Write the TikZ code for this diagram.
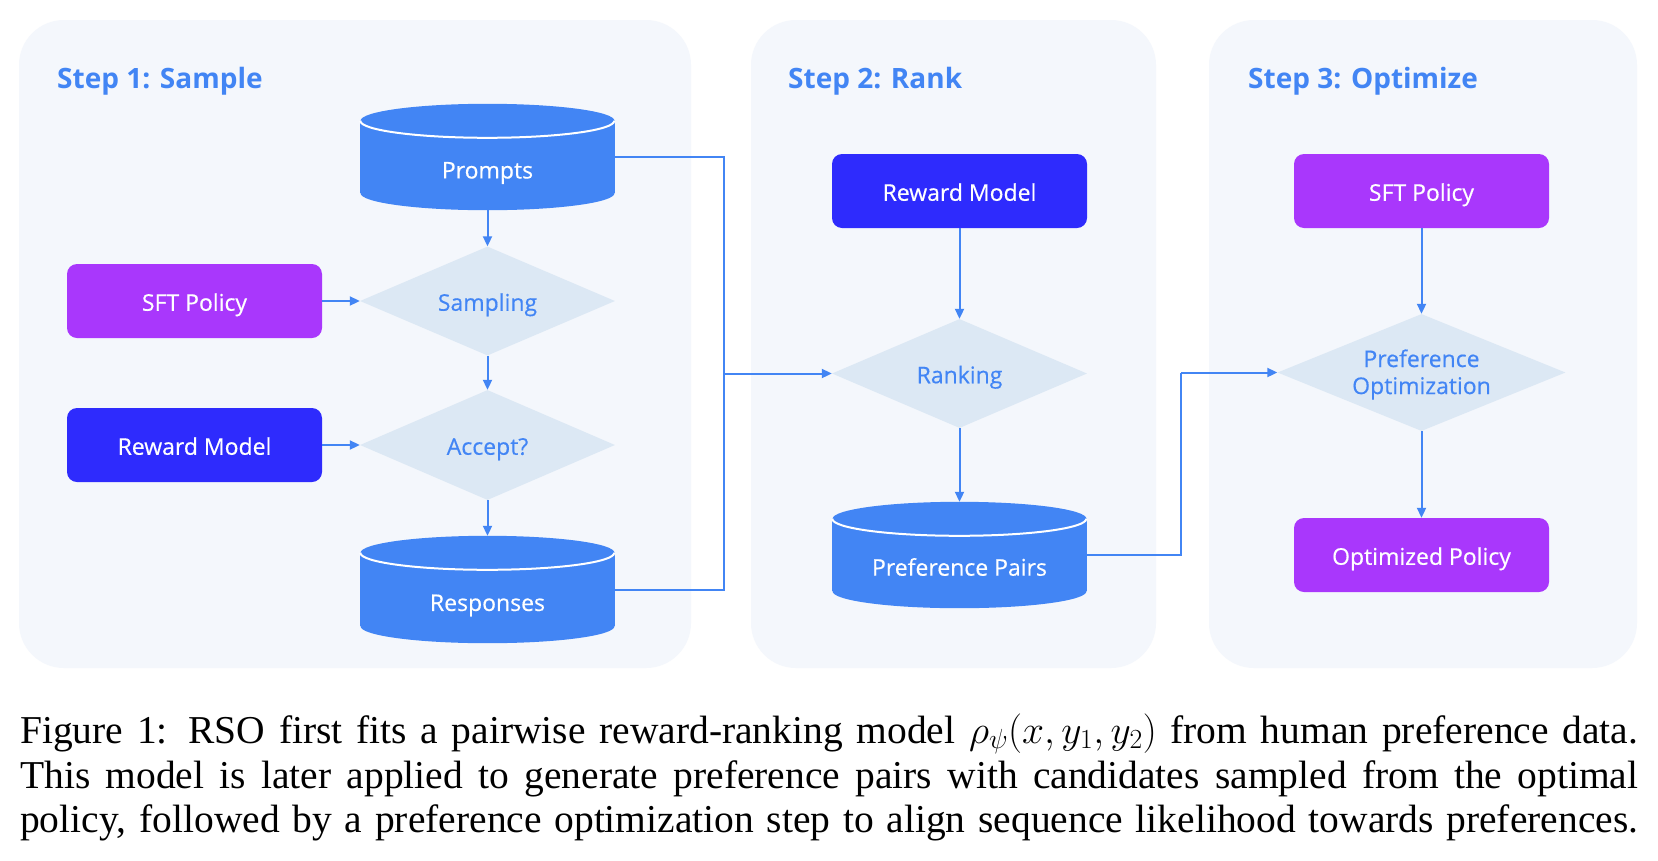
\RequirePackage{fix-cm}
\documentclass[tikz,border=0pt]{standalone}
\usepackage{fontspec}
\setmainfont{Liberation Serif}
\newfontfamily\gsans{Open Sans}
\newfontfamily\gsansm{Open Sans}[FakeBold=0.4]
\usetikzlibrary{shapes.geometric,arrows.meta,calc}
\definecolor{panelbg}{HTML}{F4F7FC}
\definecolor{cylblue}{HTML}{4285F4}
\definecolor{rmblue}{HTML}{2E2BFD}
\definecolor{sftpurple}{HTML}{A937FC}
\definecolor{diafill}{HTML}{DCE8F4}
\definecolor{linkblue}{HTML}{4285F4}
\newcommand\drawcyl[1]{%
  \fill[cylblue] ($(#1.north west)+(0,17)$) rectangle ($(#1.south east)+(0,-17)$);
  \fill[cylblue] ($(#1.north)+(0,17)$) ellipse [x radius=127, y radius=17];
  \fill[cylblue] ($(#1.south)+(0,-17)$) ellipse [x radius=127, y radius=17];
  \draw[white, line width=2pt] ($(#1.north west)+(0,17)$) arc[start angle=180, end angle=0, x radius=127, y radius=17];
}
\begin{document}
\begin{tikzpicture}[x=1pt,y=-1pt,
  panel/.style={fill=panelbg, rounded corners=45pt},
  boxfont/.style={font=\gsansm\fontsize{23}{28}\selectfont},
  lift/.style={text height=24pt, text depth=4.5pt},
  box/.style={rectangle, rounded corners=10pt, minimum width=255pt, minimum height=74pt, inner sep=0pt, text=white, boxfont, lift},
  rmbox/.style={box, fill=rmblue},
  sftbox/.style={box, fill=sftpurple},
  dia/.style={diamond, aspect=2.34, fill=diafill, inner sep=0pt, minimum width=255pt, minimum height=109pt, text=cylblue, boxfont, align=center},
  cylnode/.style={rectangle, minimum width=254pt, minimum height=106pt, inner sep=0pt},
  cyltext/.style={text=white, boxfont, inner sep=0pt},
  link/.style={draw=linkblue, line width=2pt},
  arr/.style={link, -{Triangle[length=10pt,width=9pt]}},
  title/.style={anchor=base west, inner sep=0pt, text=cylblue, font=\gsans\bfseries\fontsize{28}{34}\selectfont},
  capline/.style={anchor=base west, inner sep=0pt, font=\fontsize{39.5}{45}\selectfont}
]
\useasboundingbox (0,0) rectangle (1658,860);
\fill[white] (0,0) rectangle (1658,860);
% panels
\fill[panel] (19,20) rectangle (691,668);
\fill[panel] (751,20) rectangle (1156,668);
\fill[panel] (1209,20) rectangle (1637,668);
% titles
\node[title] (t1) at (57,88) {Step 1: Sample};
\node[title] (t2) at (788,88) {Step 2: Rank};
\node[title] (t3) at (1248,88) {Step 3: Optimize};
% step 1
\node[cylnode] (pr) at (487.5,157) {};
\drawcyl{pr}
\node[cyltext] (prt) at ($(pr)+(0,16)$) {Prompts};
\node[sftbox] (sft1) at (194.5,301) {SFT Policy};
\node[dia, lift] (samp) at (487.5,301) {Sampling};
\node[rmbox] (rm1) at (194.5,445) {Reward Model};
\node[dia, lift, minimum height=110pt] (acc) at (487.5,445) {Accept?};
\node[cylnode, minimum height=107pt] (resp) at (487.5,589.5) {};
\drawcyl{resp}
\node[cyltext] (respt) at ($(resp)+(0,16)$) {Responses};
% step 2
\node[rmbox] (rm2) at (959.5,191) {Reward Model};
\node[dia, lift] (rank) at (959.5,373.5) {Ranking};
\node[cylnode] (pp) at (959.5,555) {};
\drawcyl{pp}
\node[cyltext] (ppt) at ($(pp)+(0,12)$) {Preference Pairs};
% step 3
\node[sftbox] (sft2) at (1421.5,191) {SFT Policy};
\node[dia, aspect=2.46, minimum width=288pt, minimum height=117pt] (po) at (1421.5,372.5) {};
\node[text=cylblue, boxfont, align=center, inner sep=0pt] (pot) at ($(po)+(0,2)$) {Preference\\[-1pt]Optimization};
\node[sftbox] (opt) at (1421.5,555) {Optimized Policy};
% connectors
\draw[arr] (pr) -- (samp);
\draw[arr] (sft1) -- (samp);
\draw[arr] (samp) -- (acc);
\draw[arr] (rm1) -- (acc);
\draw[arr] (acc) -- (resp);
\coordinate (j1) at (724,373.5);
\draw[link] (pr.east) -| (j1);
\draw[link] (resp.east) -| (j1);
\draw[arr] (j1) -- (rank.west);
\draw[arr] (rm2) -- (rank);
\draw[arr] (rank) -- (pp);
\coordinate (j2) at (1181,372.5);
\draw[link] (pp.east) -| (j2);
\draw[arr] (j2) -- (po.west);
\draw[arr] (sft2) -- (po);
\draw[arr] (po) -- (opt);
% caption
\node[capline] (c1) at (20,743) {\makebox[1618pt][s]{Figure 1: RSO first fits a pairwise reward-ranking model $\rho_\psi(x,y_1,y_2)$ from human preference data.}};
\node[capline] (c2) at (20,788) {\makebox[1618pt][s]{This model is later applied to generate preference pairs with candidates sampled from the optimal}};
\node[capline] (c3) at (20,832) {\makebox[1618pt][s]{policy, followed by a preference optimization step to align sequence likelihood towards preferences.}};
\end{tikzpicture}
\end{document}
